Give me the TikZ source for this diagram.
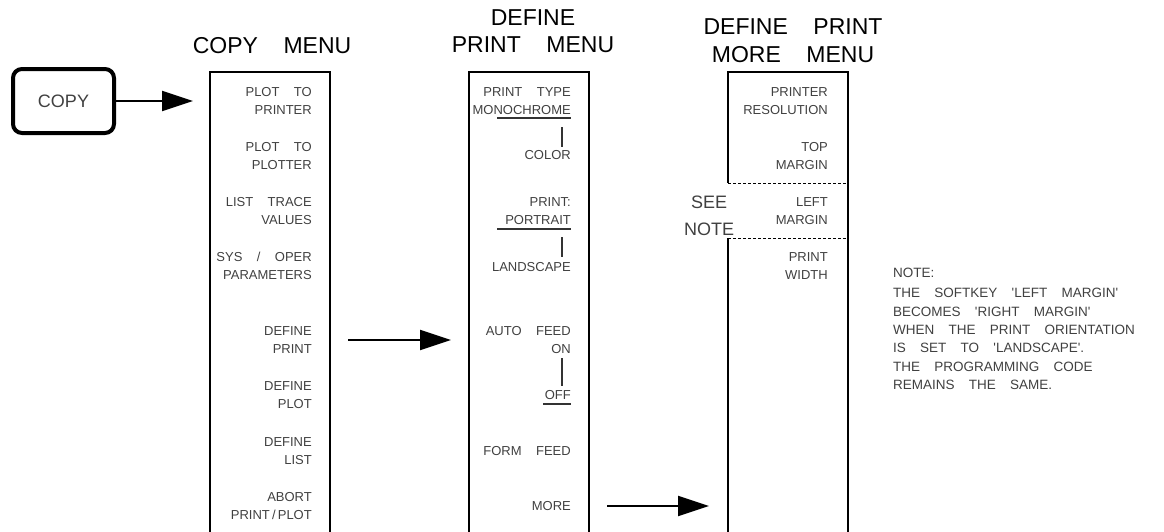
\documentclass[tikz,border=0pt]{standalone}
\usepackage{fontspec}
\setmainfont{Liberation Sans}[WordSpace=4]
\newfontfamily\notefont{Liberation Sans}[WordSpace=3.8]
\usetikzlibrary{arrows.meta}
\begin{document}
\begin{tikzpicture}[x=1pt,y=-1pt,
  menubox/.style={draw, line width=1.4pt, minimum width=120pt, minimum height=480pt, anchor=north, inner sep=0pt, outer sep=0pt},
  boxline/.style={line width=1.4pt},
  dashline/.style={line width=1pt, dash pattern=on 3pt off 2pt},
  softkey/.style={anchor=east, align=right, font=\fontsize{13}{18}\selectfont, text=black!75, inner sep=0pt},
  title/.style={align=center, font=\fontsize{23}{28}\selectfont, inner sep=0pt},
  arr/.style={line width=2pt, -{Triangle[length=31pt,width=20pt]}},
  tickline/.style={line width=1.3pt, black!80},
  hwkey/.style={draw, line width=4pt, rounded corners=9pt, minimum width=101pt, minimum height=64pt, inner sep=0pt, font=\fontsize{18}{20}\selectfont, text=black!75},
  notetxt/.style={anchor=west, align=left, font=\notefont\fontsize{13.5}{18.4}\selectfont, text=black!75, inner sep=0pt}
]
\clip (0,0) rectangle (1164,531);

% titles
\node[title] (t1) at (272,46) {COPY MENU};
\node[title, font=\fontsize{23}{27}\selectfont] (t2) at (533,31.5) {DEFINE\\PRINT MENU};
\node[title, font=\fontsize{23}{28}\selectfont] (t3) at (793,41) {DEFINE PRINT\\MORE MENU};

% hardkey
\node[hwkey] (copykey) at (63.5,101) {COPY};

% menu boxes
\node[menubox] (copymenu) at (270,72) {};
\node[menubox] (dpmenu) at (529,72) {};
\node[menubox, draw=none] (moremenu) at (788,72) {};
\coordinate (d1) at (788,183);
\coordinate (d2) at (788,238);
\draw[boxline] (moremenu.south east) -- (moremenu.north east) -- (moremenu.north west) -- (moremenu.west |- d1);
\draw[boxline] (moremenu.west |- d2) -- (moremenu.south west);
\draw[dashline] (moremenu.west |- d1) -- (moremenu.east |- d1);
\draw[dashline] (moremenu.west |- d2) -- (moremenu.east |- d2);

% copy menu softkeys
\node[softkey] (c1) at (312,101) {PLOT TO\\PRINTER};
\node[softkey] (c2) at (312,156.5) {PLOT TO\\PLOTTER};
\node[softkey] (c3) at (312,211) {LIST TRACE\\VALUES};
\node[softkey] (c4) at (312,266) {SYS / OPER\\PARAMETERS};
\node[softkey] (c5) at (312,340) {DEFINE\\PRINT};
\node[softkey] (c6) at (312,395) {DEFINE\\PLOT};
\node[softkey] (c7) at (312,451) {DEFINE\\LIST};
\node[softkey] (c8) at (312,506) {ABORT\\PRINT\,/\,PLOT};

% define print menu softkeys
\node[softkey] (p1) at (571,101) {PRINT TYPE\\MONOCHROME};
\node[softkey] (p2) at (571,155) {COLOR};
\node[softkey] (p3) at (571,211.5) {PRINT:\\PORTRAIT};
\node[softkey] (p4) at (571,267) {LANDSCAPE};
\node[softkey] (p5) at (571,340) {AUTO FEED\\ON};
\node[softkey] (p6) at (571,395) {OFF};
\node[softkey] (p7) at (571,451) {FORM FEED};
\node[softkey] (p8) at (571,506) {MORE};
\draw[tickline] (497,118) -- (571,118);
\draw[tickline] (562,127) -- (562,147);
\draw[tickline] (497,229) -- (571,229);
\draw[tickline] (562,237) -- (562,257);
\draw[tickline] (562,358) -- (562,386);
\draw[tickline] (543,404) -- (571,404);

% define print more menu softkeys
\node[softkey] (m1) at (828,101) {PRINTER\\RESOLUTION};
\node[softkey] (m2) at (828,156.5) {TOP\\MARGIN};
\node[softkey] (m3) at (828,211) {LEFT\\MARGIN};
\node[softkey] (m4) at (828,266) {PRINT\\WIDTH};

\node[align=center, font=\fontsize{18}{27}\selectfont, text=black!75, inner sep=0pt] (see) at (709,215.5) {SEE\\NOTE};

% note
\node[notetxt] (notehead) at (893,273) {NOTE:};
\node[notetxt] (notebody) at (893,339) {THE SOFTKEY 'LEFT MARGIN'\\BECOMES 'RIGHT MARGIN'\\WHEN THE PRINT ORIENTATION\\IS SET TO 'LANDSCAPE'.\\THE PROGRAMMING CODE\\REMAINS THE SAME.};

% arrows
\draw[arr] (copykey.east) -- ([xshift=-17pt]copymenu.west |- copykey.east);
\draw[arr] ([xshift=18pt]copymenu.east |- c5.east) -- ([xshift=-18pt]dpmenu.west |- c5.east);
\draw[arr] ([xshift=18pt]dpmenu.east |- p8.east) -- ([xshift=-19pt]moremenu.west |- p8.east);
\end{tikzpicture}
\end{document}
